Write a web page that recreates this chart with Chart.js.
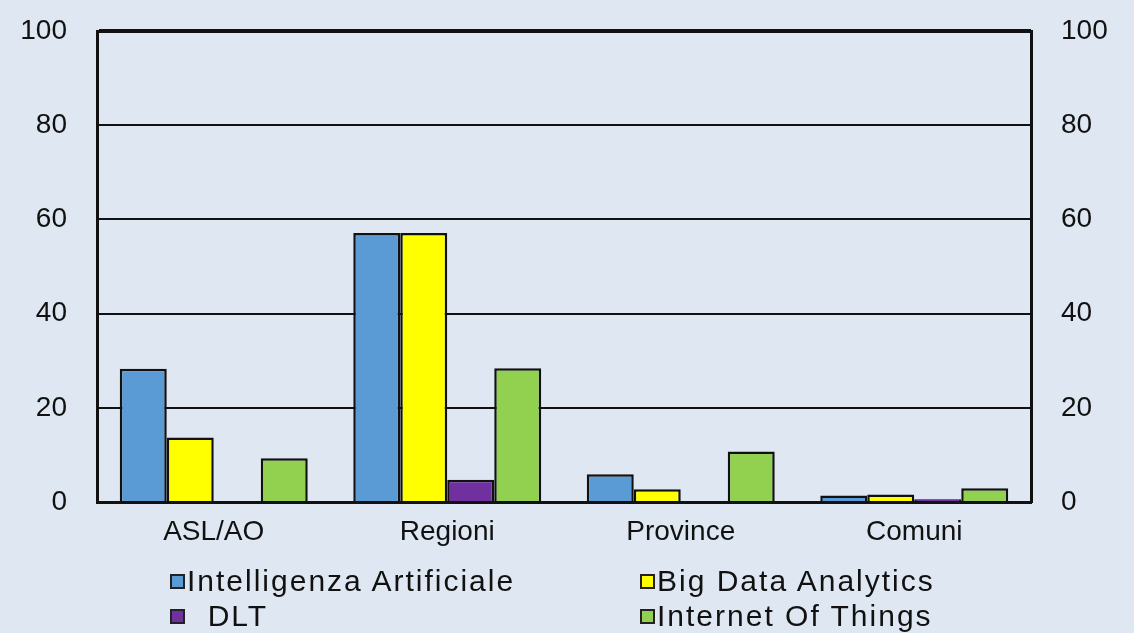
<!DOCTYPE html>
<html>
<head>
<meta charset="utf-8">
<script src="https://cdn.jsdelivr.net/npm/chart.js@4/dist/chart.umd.min.js"></script>
<style>
  body { margin: 0; background: #dfe8f2; }
  #wrap { position: relative; width: 1134px; height: 633px; }
  .leg { position: absolute; font-family: 'Liberation Sans', Arial, sans-serif;
         font-size: 30px; color: #111; letter-spacing: 2px; line-height: 30px; white-space: pre; }
  .leg i { display: inline-block; width: 11px; height: 11px; border: 2px solid #222; margin-right: 2px; vertical-align: 2px; }
</style>
</head>
<body>
<div id="wrap">
  <canvas id="chart" width="1134" height="633"></canvas>
</div>
<script>
const categories = ["ASL/AO", "Regioni", "Province", "Comuni"]
const seriesNames = ["Intelligenza Artificiale", "Big Data Analytics", "DLT", "Internet Of Things"]
const intelligenzaArtificiale = [28.3, 57.1, 5.9, 1.4]
const bigDataAnalytics = [13.7, 57.1, 2.7, 1.6]
const dlt = [0, 4.7, 0, 0.6]
const internetOfThings = [9.3, 28.4, 10.7, 2.9]
const yTicks = [0, 20, 40, 60, 80, 100]
const colors = ["#5b9bd5", "#ffff00", "#7030a0", "#92d050"]

const tickFont = { family: "'Liberation Sans', Arial", size: 28, lineHeight: 1 }

function makeDataset(label, data, color) {
  return {
    label: label,
    data: data,
    backgroundColor: color,
    borderColor: "#111",
    borderWidth: 2.5,
    categoryPercentage: 0.805,
    barPercentage: 1
  }
}

// legend drawn as html, two columns
const legendSpots = [[170, 566], [640, 566], [170, 601], [640, 601]]
const wrap = document.getElementById("wrap")
seriesNames.forEach((name, i) => {
  const d = document.createElement("div")
  d.className = "leg"
  d.style.left = legendSpots[i][0] + "px"
  d.style.top = legendSpots[i][1] + "px"
  d.innerHTML = '<i style="background:' + colors[i] + '"></i>' + (name === "DLT" ? "  DLT" : name)
  wrap.appendChild(d)
})

// fixed widths and no label overflow padding, so the plot box sits where the original has it
function fixY(width) {
  return scale => {
    scale.width = width
    scale.paddingTop = 0
    scale.paddingBottom = 0
  }
}

new Chart(document.getElementById("chart"), {
  type: "bar",
  data: {
    labels: categories,
    datasets: [
      makeDataset(seriesNames[0], intelligenzaArtificiale, colors[0]),
      makeDataset(seriesNames[1], bigDataAnalytics, colors[1]),
      makeDataset(seriesNames[2], dlt, colors[2]),
      makeDataset(seriesNames[3], internetOfThings, colors[3])
    ]
  },
  options: {
    responsive: false,
    animation: false,
    layout: { padding: { top: 31, left: 0, right: 0, bottom: 0 } },
    plugins: { legend: { display: false }, tooltip: { enabled: false } },
    scales: {
      x: {
        grid: { display: false },
        border: { color: "#111", width: 3 },
        ticks: { color: "#111", font: tickFont, padding: 8 },
        afterFit: scale => {
          scale.height = 131
          scale.paddingLeft = 0
          scale.paddingRight = 0
        }
      },
      y: {
        min: 0, max: 100,
        afterBuildTicks: scale => { scale.ticks = yTicks.map(v => ({ value: v })) },
        grid: { color: "#111", lineWidth: c => (c.tick && c.tick.value === 100 ? 4 : 2), drawTicks: false },
        border: { color: "#111", width: 3 },
        ticks: { color: "#111", font: tickFont, padding: 30 },
        afterFit: fixY(97)
      },
      y2: {
        position: "right",
        min: 0, max: 100,
        afterBuildTicks: scale => { scale.ticks = yTicks.map(v => ({ value: v })) },
        grid: { display: false, drawTicks: false },
        border: { color: "#111", width: 3 },
        ticks: { color: "#111", font: tickFont, padding: 30 },
        afterFit: fixY(103)
      }
    }
  }
})
</script>
</body>
</html>
